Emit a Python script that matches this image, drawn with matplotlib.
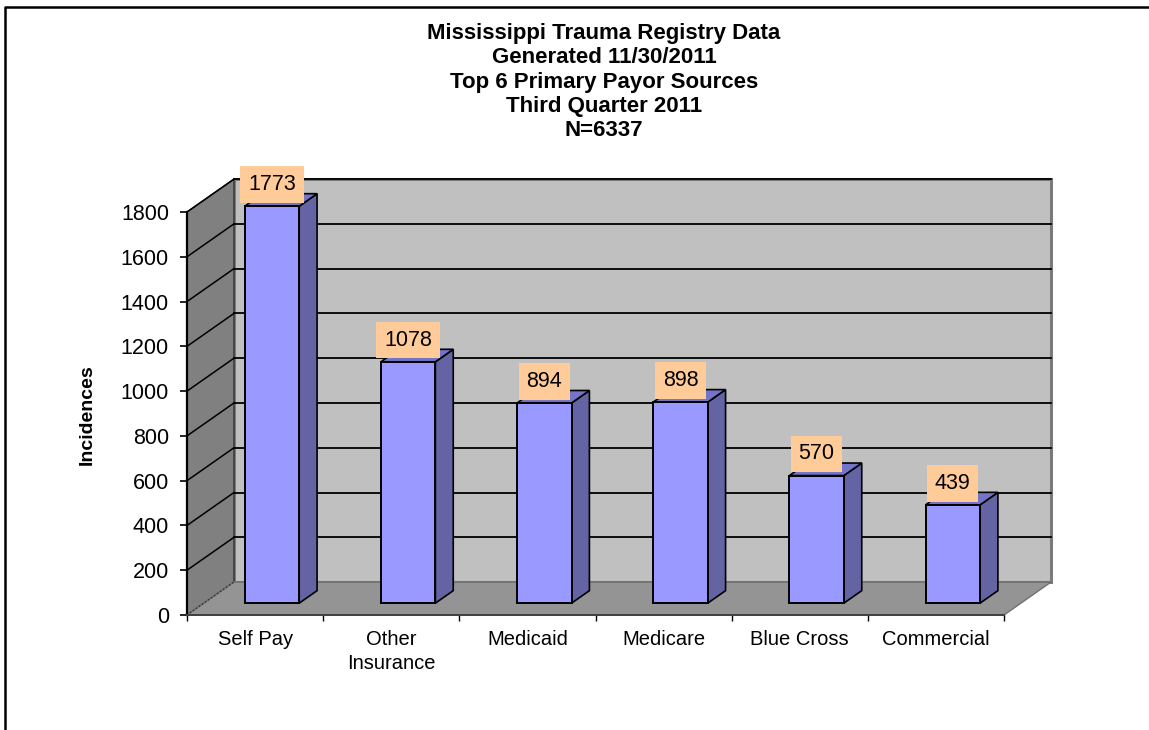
import numpy as np
import matplotlib.pyplot as plt
from matplotlib.patches import Polygon, Rectangle
from matplotlib.lines import Line2D

plt.rcParams['font.family'] = ['Liberation Sans', 'DejaVu Sans']

# data
categories = ['Self Pay', 'Other\nInsurance', 'Medicaid', 'Medicare', 'Blue Cross', 'Commercial']
values = [1773, 1078, 894, 898, 570, 439]
yticks = np.arange(0, 1801, 200)
title = ('Mississippi Trauma Registry Data\nGenerated 11/30/2011\n'
         'Top 6 Primary Payor Sources\nThird Quarter 2011\nN=6337')

# fake 3d look: depth vector in data units
ddx, ddy = 0.345, 147
d0, dd = 0.36, 0.38     # bar front depth, bar depth
bar_w = 0.4
ymax = 1800
n = len(categories)

fig = plt.figure(figsize=(11.49, 7.30), dpi=100)
ax = fig.add_axes([187 / 1149, 115 / 730, 817 / 1149, 403 / 730])
ax.set_xlim(0, n)
ax.set_ylim(0, ymax)
ax.set_facecolor('none')

# walls and floor
back = Rectangle((ddx, ddy), n, ymax, facecolor='#c0c0c0', edgecolor='#7a7a7a',
                 lw=2.2, zorder=1, clip_on=False)
ax.add_patch(back)
left = Polygon([(0, 0), (ddx, ddy), (ddx, ymax + ddy), (0, ymax)], closed=True,
               facecolor='#808080', edgecolor='#303030', lw=1, zorder=1.2, clip_on=False)
ax.add_patch(left)
floor = Polygon([(0, 0), (n, 0), (n + ddx, ddy), (ddx, ddy)], closed=True,
                facecolor='#949494', edgecolor='#707070', lw=1, zorder=1.2, clip_on=False)
ax.add_patch(floor)

for v in yticks[1:]:
    ax.plot([ddx, n + ddx], [v + ddy, v + ddy], color='black', lw=1.3, zorder=1.5, clip_on=False)
    ax.plot([0, ddx], [v, v + ddy], color='black', lw=1.1, zorder=1.5, clip_on=False)
ax.plot([0, ddx], [0, ddy], color='#303030', lw=1, ls=':', zorder=1.5, clip_on=False)

# bars
for i, v in enumerate(values):
    x0 = i + 0.3 + d0 * ddx
    y0 = d0 * ddy
    sx, sy = dd * ddx, dd * ddy
    side = Polygon([(x0 + bar_w, y0), (x0 + bar_w + sx, y0 + sy),
                    (x0 + bar_w + sx, y0 + v + sy), (x0 + bar_w, y0 + v)],
                   closed=True, facecolor='#6464a4', edgecolor='black', lw=1.2,
                   zorder=3, clip_on=False)
    top = Polygon([(x0, y0 + v), (x0 + bar_w, y0 + v), (x0 + bar_w + sx, y0 + v + sy),
                   (x0 + sx, y0 + v + sy)], closed=True, facecolor='#7474c8',
                  edgecolor='black', lw=1.2, zorder=3, clip_on=False)
    front = Rectangle((x0, y0), bar_w, v, facecolor='#9999ff', edgecolor='black',
                      lw=1.4, zorder=3.2, clip_on=False)
    for p in (side, top, front):
        ax.add_patch(p)
    ax.annotate(str(v), xy=(x0 + bar_w / 2, y0 + v), xytext=(0, 8),
                textcoords='offset points', ha='center', va='bottom', fontsize=15.5,
                bbox=dict(boxstyle='square,pad=0.36', facecolor='#ffcc99', edgecolor='none'),
                zorder=4, annotation_clip=False)

# axes
for s in ('top', 'right'):
    ax.spines[s].set_visible(False)
ax.spines['left'].set_color('black')
ax.spines['left'].set_linewidth(1.6)
ax.spines['left'].set_zorder(5)
ax.spines['bottom'].set_color('#404040')
ax.spines['bottom'].set_linewidth(1.4)
ax.spines['bottom'].set_zorder(5)

ax.set_yticks(yticks)
ax.tick_params(axis='y', direction='out', length=5, width=1.2, pad=8, labelsize=15.5)
ax.set_xticks(np.arange(n + 1))
ax.set_xticklabels([])
ax.set_xticks(np.arange(n) + 0.5, minor=True)
ax.set_xticklabels(categories, minor=True, fontsize=14.5, linespacing=1.3)
ax.tick_params(axis='x', which='major', direction='out', length=4.5, width=1)
ax.tick_params(axis='x', which='minor', length=0, pad=11)

ax.set_ylabel('Incidences', fontsize=14, fontweight='bold', labelpad=0)
ax.yaxis.set_label_coords(-(187 - 96) / 817, (615 - 415) / 403)

fig.text(604 / 1149, 1 - 23 / 730, title, ha='center', va='top', fontsize=16,
         fontweight='bold', linespacing=1.21)

# outer border
fig.add_artist(Line2D([5 / 1149, 5 / 1149, 1], [0, 1 - 7 / 730, 1 - 7 / 730],
                      color='black', lw=1.8, transform=fig.transFigure))

fig.savefig('out.png', dpi=100)
